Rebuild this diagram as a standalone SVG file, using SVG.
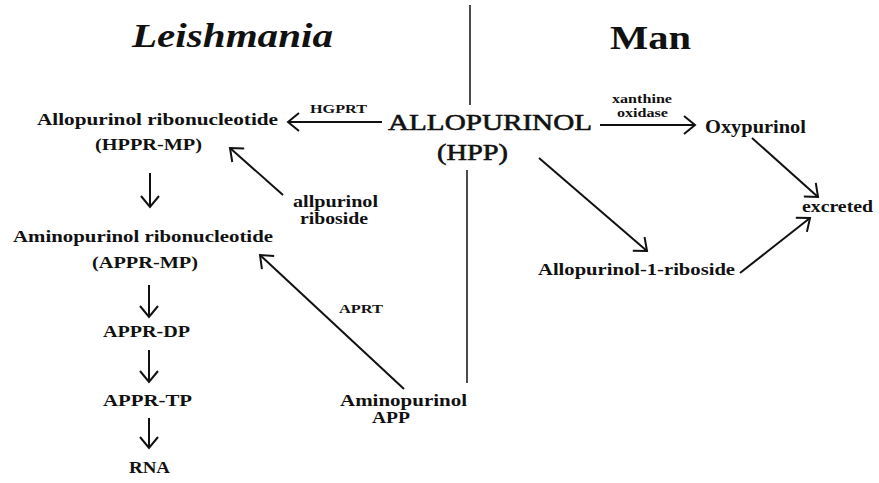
<svg xmlns="http://www.w3.org/2000/svg" width="879" height="483" viewBox="0 0 879 483">
<style>
text{font-family:"Liberation Serif","Times New Roman",serif;fill:#111;font-weight:bold}
.n{font-size:17px}
.m{font-size:16px}
.s{font-size:12px}
.big{font-size:24px;font-weight:normal;stroke:#111;stroke-width:0.6}
.c{stroke:#111;stroke-width:2;fill:none}
.d{stroke:#111;stroke-width:1.5;fill:none}
</style>
<defs>
<marker id="ah" viewBox="0 0 20 20" refX="18" refY="10" markerWidth="20" markerHeight="20" markerUnits="userSpaceOnUse" orient="auto">
<path d="M7,1 L18,10 L7,19" fill="none" stroke="#111" stroke-width="2"/>
</marker>
</defs>
<rect width="879" height="483" fill="#fff"/>
<g id="titles">
<text x="132" y="47" textLength="201" lengthAdjust="spacingAndGlyphs" style="font-size:34px;font-style:italic">Leishmania</text>
<text x="610" y="49" textLength="81" lengthAdjust="spacingAndGlyphs" style="font-size:34px">Man</text>
</g>
<g id="divider">
<line x1="470" y1="5" x2="470" y2="105" class="d"/>
<line x1="467" y1="170" x2="467" y2="383" class="d"/>
</g>
<g id="allopurinol"><text x="388" y="130" textLength="204" lengthAdjust="spacingAndGlyphs" class="big">ALLOPURINOL</text><text x="437" y="160" textLength="71" lengthAdjust="spacingAndGlyphs" class="big">(HPP)</text></g>
<g id="hppr-mp"><text x="37" y="125" textLength="241" lengthAdjust="spacingAndGlyphs" class="n">Allopurinol ribonucleotide</text><text x="95" y="150" textLength="107" lengthAdjust="spacingAndGlyphs" class="n">(HPPR-MP)</text></g>
<g id="appr-mp"><text x="13" y="242" textLength="260" lengthAdjust="spacingAndGlyphs" class="n">Aminopurinol ribonucleotide</text><text x="92" y="268" textLength="106" lengthAdjust="spacingAndGlyphs" class="n">(APPR-MP)</text></g>
<g id="appr-dp"><text x="103" y="337" textLength="87" lengthAdjust="spacingAndGlyphs" class="n">APPR-DP</text></g>
<g id="appr-tp"><text x="103" y="406" textLength="89" lengthAdjust="spacingAndGlyphs" class="n">APPR-TP</text></g>
<g id="rna"><text x="129" y="473" textLength="41" lengthAdjust="spacingAndGlyphs" class="n">RNA</text></g>
<g id="allpurinol-riboside"><text x="293" y="207" textLength="85" lengthAdjust="spacingAndGlyphs" class="m">allpurinol</text><text x="300" y="224" textLength="68" lengthAdjust="spacingAndGlyphs" class="m">riboside</text></g>
<g id="aminopurinol"><text x="340" y="406" textLength="127" lengthAdjust="spacingAndGlyphs" class="m">Aminopurinol</text><text x="372" y="423" textLength="38" lengthAdjust="spacingAndGlyphs" class="m">APP</text></g>
<g id="oxypurinol"><text x="705" y="133" textLength="101" lengthAdjust="spacingAndGlyphs" class="n" style="font-size:18px">Oxypurinol</text></g>
<g id="excreted"><text x="802" y="212" textLength="71" lengthAdjust="spacingAndGlyphs" class="n">excreted</text></g>
<g id="riboside1"><text x="538" y="275" textLength="197" lengthAdjust="spacingAndGlyphs" class="n">Allopurinol-1-riboside</text></g>
<g id="connectors">
<line x1="382" y1="122" x2="288" y2="122" class="c" marker-end="url(#ah)"/>
<text x="310" y="113" textLength="57" lengthAdjust="spacingAndGlyphs" class="s">HGPRT</text>
<line x1="600" y1="125" x2="695" y2="125" class="c" marker-end="url(#ah)"/>
<text x="612" y="103" textLength="60" lengthAdjust="spacingAndGlyphs" class="s">xanthine</text>
<text x="617" y="117" textLength="51" lengthAdjust="spacingAndGlyphs" class="s">oxidase</text>
<line x1="752" y1="138" x2="818" y2="197" class="c" marker-end="url(#ah)"/>
<line x1="539" y1="158" x2="647" y2="251" class="c" marker-end="url(#ah)"/>
<line x1="740" y1="273" x2="810" y2="218" class="c" marker-end="url(#ah)"/>
<line x1="283" y1="195" x2="230" y2="148" class="c" marker-end="url(#ah)"/>
<line x1="404" y1="389" x2="260" y2="255" class="c" marker-end="url(#ah)"/>
<text x="339" y="313" textLength="44" lengthAdjust="spacingAndGlyphs" class="s">APRT</text>
<line x1="150" y1="173" x2="150" y2="207" class="c" marker-end="url(#ah)"/>
<line x1="149" y1="285" x2="149" y2="317" class="c" marker-end="url(#ah)"/>
<line x1="149" y1="350" x2="149" y2="382" class="c" marker-end="url(#ah)"/>
<line x1="149" y1="418" x2="149" y2="448" class="c" marker-end="url(#ah)"/>
</g>
</svg>
